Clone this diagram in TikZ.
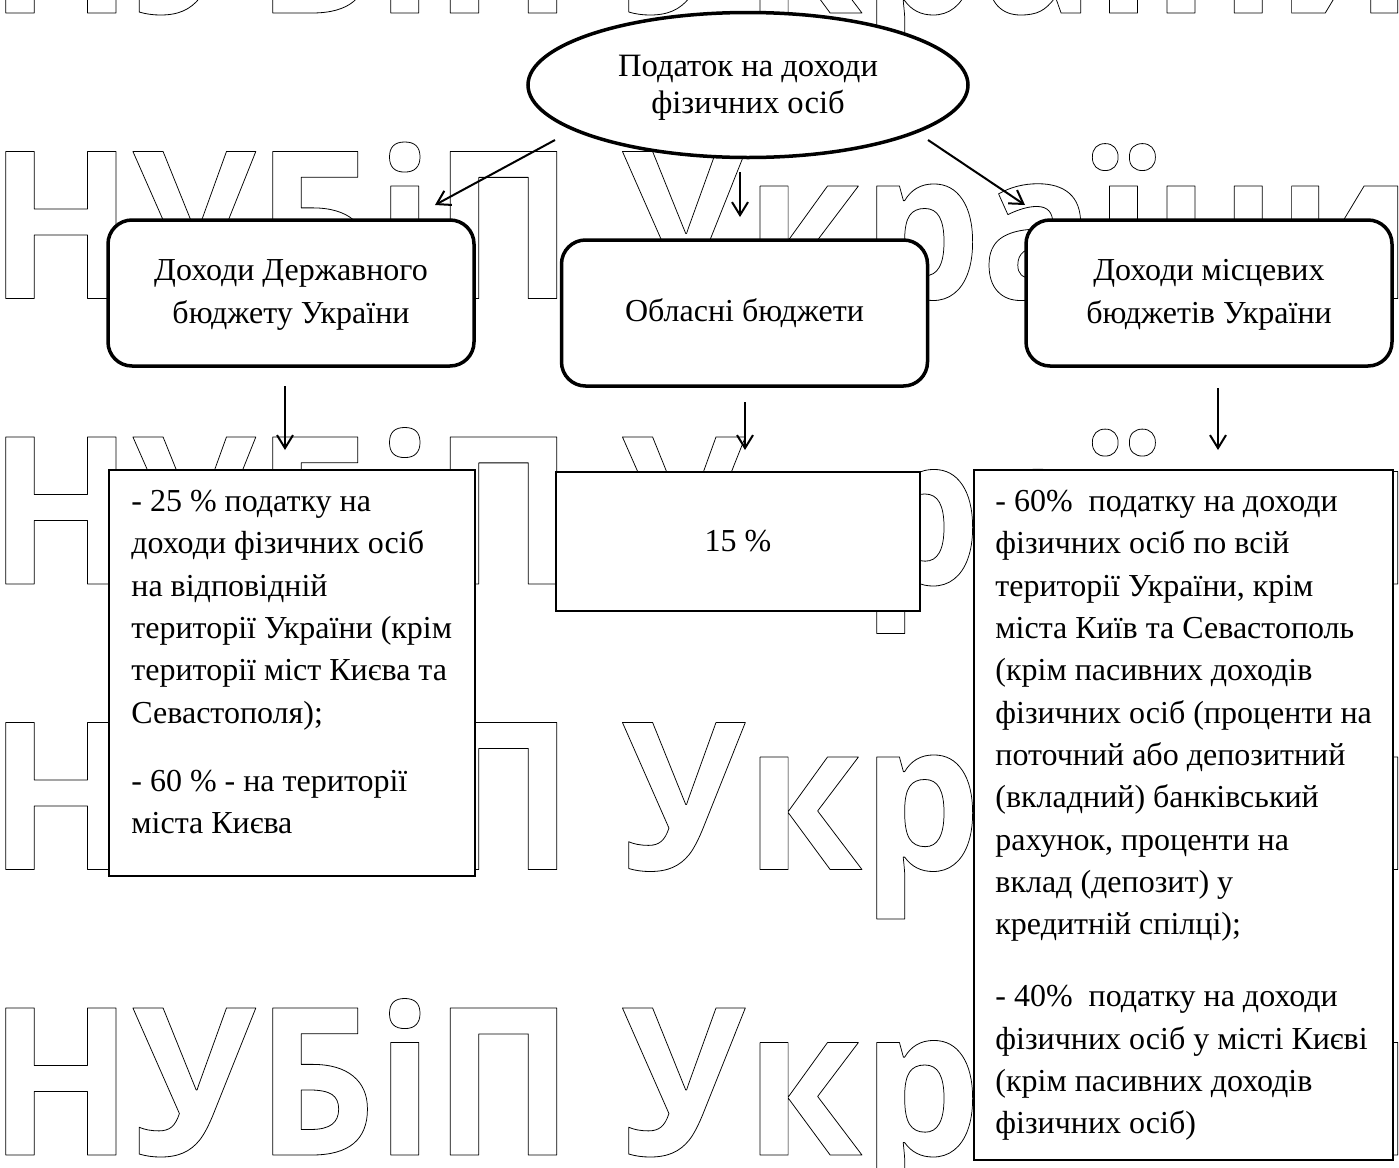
\documentclass[tikz,border=0pt]{standalone}
\usepackage{fontspec}
\setmainfont{Liberation Serif}
\newfontfamily\wmfont{Open Sans}
\usetikzlibrary{arrows.meta,shapes.geometric}
\newcommand\wmoutline[1]{\special{pdf:literal direct 1 Tr 0.4 w 1 j}#1\special{pdf:literal direct 0 Tr}}
\begin{document}
\begin{tikzpicture}[x=0.5pt,y=-0.5pt,
  wm/.style={font=\wmfont\bfseries\fontsize{103}{110}\selectfont, inner sep=0pt, anchor=base west, xscale=0.914, transform shape},
  rbox/.style={draw, line width=1.75pt, rounded corners=12pt, fill=white, inner sep=0pt,
    minimum width=183pt, minimum height=73pt},
  pbox/.style={draw, line width=0.6pt, fill=white, inner sep=0pt},
  boxtext/.style={inner sep=0pt, align=center, font=\fontsize{16}{21.5}\selectfont},
  listtext/.style={inner sep=0pt, align=left, anchor=north west, font=\fontsize{16}{21.15}\selectfont},
  arr/.style={line width=1pt, -{Straight Barb[length=6.5pt,width=8pt]}}
]
\useasboundingbox (0,0) rectangle (1399,1168);
\fill[white] (0,0) rectangle (1399,1168);

% watermark
\foreach \yy [count=\i] in {13,298.5,584,869.5,1155}
  \node[wm] (wm\i) at (-11.5,\yy) {\wmoutline{НУБіП України}};

% top ellipse
\node[draw, ellipse, line width=1.75pt, fill=white, inner sep=0pt,
  minimum width=220pt, minimum height=72.5pt] (tax) at (748,85) {};
\node[boxtext, font=\fontsize{16.3}{18.5}\selectfont] (taxt) at ([yshift=-1.5pt]tax.center) {Податок на доходи\\фізичних осіб};

% arrow coordinates
\coordinate (a1s) at (555,140); \coordinate (a1e) at (435,205);
\coordinate (a2s) at (740,172); \coordinate (a2e) at (740,217);
\coordinate (a3s) at (928,140); \coordinate (a3e) at (1025,205);
\coordinate (d1s) at (285,386); \coordinate (d1e) at (285,450);
\coordinate (d2s) at (745,402); \coordinate (d2e) at (745,450);
\coordinate (d3s) at (1218,388); \coordinate (d3e) at (1218,450);

\draw[arr] (a1s) -- (a1e);
\draw[arr] (a2s) -- (a2e);
\draw[arr] (a3s) -- (a3e);
\draw[arr] (d1s) -- (d1e);
\draw[arr] (d2s) -- (d2e);
\draw[arr] (d3s) -- (d3e);

% rounded boxes
\node[rbox] (state) at (291,293) {};
\node[boxtext] (statet) at ([yshift=-1pt]state.center) {Доходи Державного\\бюджету України};
\node[rbox] (obl) at (744.5,313) {};
\node[boxtext] (oblt) at (obl.center) {Обласні бюджети};
\node[rbox] (loc) at (1209,293) {};
\node[boxtext] (loct) at ([yshift=-1pt]loc.center) {Доходи місцевих\\бюджетів України};

% plain boxes
\node[pbox, minimum width=183pt, minimum height=203pt] (r1) at (292,673) {};
\node[listtext] (r1t) at (131,490) {- 25 \% податку на\\
доходи фізичних осіб\\
на відповідній\\
території України (крім\\
території міст Києва та\\
Севастополя);\\[13pt]
- 60 \% - на території\\
міста Києва};

\node[pbox, minimum width=182pt, minimum height=69.5pt] (r2) at (738,541.5) {};
\node[boxtext] (r2t) at (r2.center) {15 \%};

\node[pbox, minimum width=209.5pt, minimum height=345pt] (r3) at (1183.5,815) {};
\node[listtext] (r3t) at (995,490) {- 60\%\ \ податку на доходи\\
фізичних осіб по всій\\
території України, крім\\
міста Київ та Севастополь\\
(крім пасивних доходів\\
фізичних осіб (проценти на\\
поточний або депозитний\\
(вкладний) банківський\\
рахунок, проценти на\\
вклад (депозит) у\\
кредитній спілці);\\[15pt]
- 40\%\ \ податку на доходи\\
фізичних осіб у місті Києві\\
(крім пасивних доходів\\
фізичних осіб)};
\end{tikzpicture}
\end{document}
